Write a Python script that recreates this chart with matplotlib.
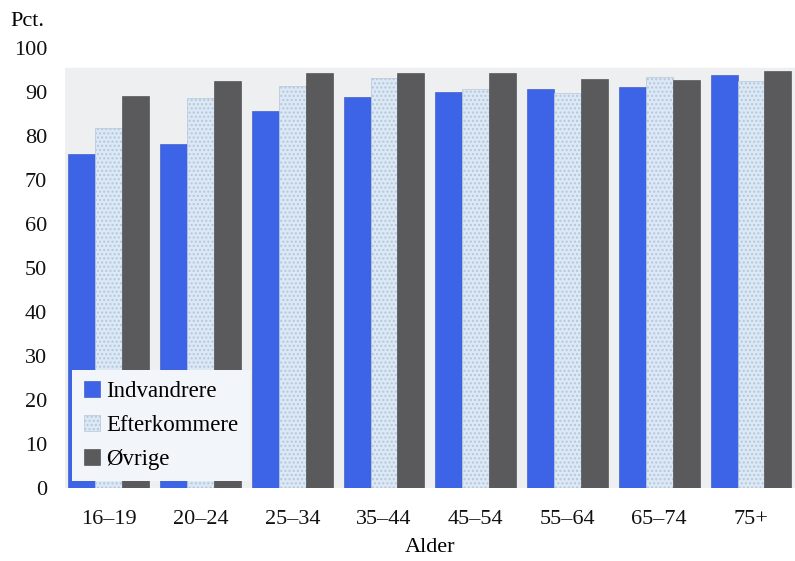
import numpy as np
import matplotlib.pyplot as plt

plt.rcParams['font.family'] = ['Liberation Serif', 'DejaVu Serif']

ages = ["16–19", "20–24", "25–34", "35–44", "45–54", "55–64", "65–74", "75+"]
indvandrere = [75.9, 78.2, 85.7, 88.9, 90.0, 90.7, 91.1, 93.9]
efterkommere = [81.8, 88.6, 91.4, 93.2, 90.7, 89.8, 93.4, 92.5]
ovrige = [89.1, 92.5, 94.3, 94.3, 94.3, 93.0, 92.7, 94.8]
series_names = ["Indvandrere", "Efterkommere", "Øvrige"]

fig = plt.figure(figsize=(7.95, 5.61), dpi=100)
ax = fig.add_axes([0.082, 0.130, 0.918, 0.784])

x = np.arange(len(ages))
w = 0.293
# light shaded plot area (stops below the 100 line, as in the original)
ax.axhspan(0, 95.5, color="#eeeff1", zorder=0)

ax.bar(x - w, indvandrere, w, color="#3d63e6", edgecolor="#2f4fc0",
       linewidth=0.4, zorder=2, label=series_names[0])
b2 = ax.bar(x, efterkommere, w, color="#dbe8f6", edgecolor="#b7c6d8",
            linewidth=0.5, hatch="....", zorder=2, label=series_names[1])
ax.bar(x + w, ovrige, w, color="#5a5a5c", edgecolor="#444446",
       linewidth=0.4, zorder=2, label=series_names[2])

ax.set_xlim(-0.475, 7.48)
ax.set_ylim(0, 100)
ax.set_yticks(np.arange(0, 101, 10))
ax.set_xticks(x)
ax.set_xticklabels(ages)
ax.tick_params(axis="both", length=0, labelsize=16, colors="#111111")
ax.tick_params(axis="y", pad=13)
ax.tick_params(axis="x", pad=16)
for s in ax.spines.values():
    s.set_visible(False)
ax.set_xlabel("Alder", fontsize=16, labelpad=6)
fig.text(0.013, 0.962, "Pct.", fontsize=16, ha="left", va="center")

leg = ax.legend(loc="lower left", bbox_to_anchor=(0.0, 0.0), fontsize=16.5,
                frameon=True, fancybox=False, handlelength=0.7,
                handleheight=0.7, handletextpad=0.3, labelspacing=0.55,
                borderpad=0.5, borderaxespad=0.3)
leg.get_frame().set_facecolor("#f2f5f9")
leg.get_frame().set_edgecolor("none")
leg.get_frame().set_alpha(1)
leg.set_zorder(5)

fig.savefig("out.png", dpi=100)
